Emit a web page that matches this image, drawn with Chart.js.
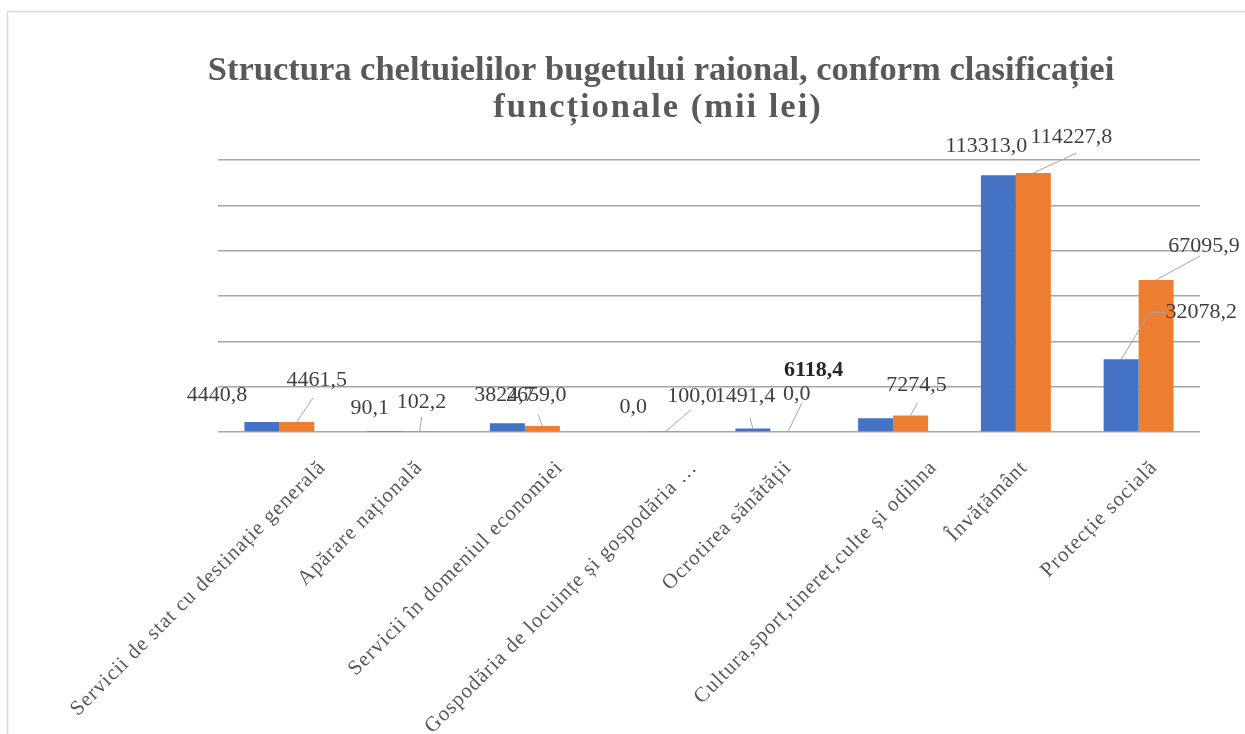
<!DOCTYPE html>
<html>
<head>
<meta charset="utf-8">
<script src="https://cdn.jsdelivr.net/npm/chart.js@4.4.1/dist/chart.umd.min.js"></script>
<style>
html,body{margin:0;padding:0;background:#fff;}
canvas{display:block;}
</style>
</head>
<body>
<canvas id="c" width="1245" height="734"></canvas>
<script>
const titleLines = ["Structura cheltuielilor bugetului raional, conform clasificației", "funcționale (mii lei)"];
const categories = [
  "Servicii de stat cu destinație generală",
  "Apărare națională",
  "Servicii în domeniul economiei",
  "Gospodăria de locuințe și gospodăria …",
  "Ocrotirea sănătății",
  "Cultura,sport,tineret,culte și odihna",
  "Învățământ",
  "Protecție socială"
];
const seriesBlue = [4440.8, 90.1, 3824.7, 0.0, 1491.4, 6118.4, 113313.0, 32078.2];
const seriesOrange = [4461.5, 102.2, 2659.0, 100.0, 0.0, 7274.5, 114227.8, 67095.9];
const yTicks = [0, 20000, 40000, 60000, 80000, 100000, 120000];

// label placement styling (offsets from bar top, px)
const labelStyleBlue = [
  {dx:-45, dy:-27}, {dx:-15, dy:-24}, {dx:-3, dy:-28}, {dx:3, dy:-25},
  {dx:-8, dy:-32, lx:-3, ly:-11}, {dx:-62, dy:-48, bold:true}, {dx:-12, dy:-29},
  {dx:80, dy:-47, lx:29, ly:-47, hook:true}
];
const labelStyleOrange = [
  {dx:20, dy:-42, lx:16, ly:-24}, {dx:2, dy:-30, lx:2, ly:-15}, {dx:-6, dy:-31, lx:-4, ly:-11},
  {dx:27, dy:-36, lx:26, ly:-22}, {dx:9, dy:-38, lx:14, ly:-29}, {dx:6, dy:-30, lx:7, ly:-13},
  {dx:38, dy:-36, lx:43, ly:-20}, {dx:48, dy:-34, lx:44, ly:-24}
];

const fmt = v => v.toFixed(1).replace('.', ',');

const decorPlugin = {
  id: 'decor',
  beforeDraw(chart) {
    const ctx = chart.ctx;
    ctx.save();
    ctx.fillStyle = '#fff';
    ctx.fillRect(0, 0, chart.width, chart.height);
    ctx.strokeStyle = '#d9d9d9';
    ctx.lineWidth = 1.5;
    ctx.beginPath();
    ctx.moveTo(7.5, 734); ctx.lineTo(7.5, 11.5); ctx.lineTo(1245, 11.5);
    ctx.stroke();
    ctx.restore();
  },
  afterDraw(chart) {
    const ctx = chart.ctx;
    const xs = chart.scales.x;
    ctx.save();
    // title
    ctx.fillStyle = '#595959';
    ctx.font = 'bold 34.5px "Liberation Serif", "Times New Roman", serif';
    ctx.textAlign = 'center';
    ctx.textBaseline = 'alphabetic';
    ctx.fillText(titleLines[0], 661, 80);
    ctx.letterSpacing = '2px';
    ctx.fillText(titleLines[1], 658, 117);
    ctx.letterSpacing = '0px';

    // x labels
    ctx.font = '21px "Liberation Serif", "Times New Roman", serif';
    ctx.letterSpacing = '1px';
    ctx.fillStyle = '#595959';
    categories.forEach((lab, i) => {
      const x = xs.getPixelForValue(i);
      const L = ctx.measureText(lab).width;
      const ex = x + 0.14 * L - 13.6;
      const ey = 457;
      ctx.save();
      ctx.translate(ex, ey);
      ctx.rotate(-Math.PI / 4);
      ctx.textAlign = 'right';
      ctx.textBaseline = 'top';
      ctx.fillText(lab, 0, 0);
      ctx.restore();
    });
    ctx.letterSpacing = '0px';

    // data labels
    const drawLabels = (dsIndex, values, styles) => {
      const meta = chart.getDatasetMeta(dsIndex);
      meta.data.forEach((bar, i) => {
        const s = styles[i];
        const bx = bar.x, by = bar.y;
        const tx = bx + s.dx, ty = by + s.dy;
        if (s.lx !== undefined) {
          ctx.strokeStyle = '#a6a6a6';
          ctx.lineWidth = 1;
          ctx.beginPath();
          ctx.moveTo(bx, by);
          ctx.lineTo(bx + s.lx, by + s.ly);
          if (s.hook) {
            ctx.lineTo(tx - 36, ty);
          }
          ctx.stroke();
        }
        ctx.font = (s.bold ? 'bold ' : '') + '22px "Liberation Serif", "Times New Roman", serif';
        ctx.fillStyle = s.bold ? '#262626' : '#404040';
        ctx.textAlign = 'center';
        ctx.textBaseline = 'middle';
        ctx.fillText(fmt(values[i]), tx, ty);
      });
    };
    drawLabels(0, seriesBlue, labelStyleBlue);
    drawLabels(1, seriesOrange, labelStyleOrange);
    ctx.restore();
  }
};

new Chart(document.getElementById('c'), {
  type: 'bar',
  data: {
    labels: categories,
    datasets: [
      { label: 'Seria 1', data: seriesBlue, backgroundColor: '#4472C4', categoryPercentage: 0.57, barPercentage: 1.0 },
      { label: 'Seria 2', data: seriesOrange, backgroundColor: '#ED7D31', categoryPercentage: 0.57, barPercentage: 1.0 }
    ]
  },
  options: {
    responsive: false,
    devicePixelRatio: 1,
    animation: false,
    layout: { padding: { left: 218, right: 45, top: 160, bottom: 302 } },
    plugins: { legend: { display: false }, title: { display: false }, tooltip: { enabled: false } },
    scales: {
      x: { display: false },
      y: {
        min: yTicks[0], max: yTicks[yTicks.length - 1],
        afterBuildTicks: (axis) => { axis.ticks = yTicks.map(v => ({ value: v })); },
        ticks: { display: false },
        border: { display: false },
        grid: { color: '#a6a6a6', lineWidth: 1.5, drawTicks: false }
      }
    }
  },
  plugins: [decorPlugin]
});
</script>
</body>
</html>
